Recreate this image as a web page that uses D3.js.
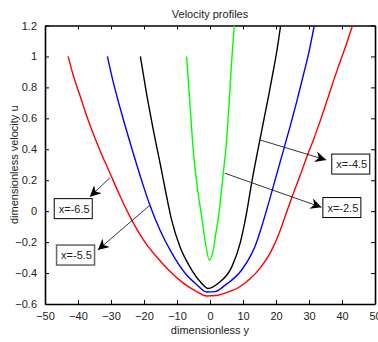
<!DOCTYPE html>
<html>
<head>
<meta charset="utf-8">
<script src="https://cdn.jsdelivr.net/npm/d3@7"></script>
<style>
  body { margin: 0; background: #fff; }
  svg { display: block; font-family: "Liberation Sans", Arial, sans-serif; }
</style>
</head>
<body>
<div id="chart"></div>
<script>
// velocity profiles: [dimensionless y, u]
const profileX65 = [
  [-43.0, 1.0], [-41.6, 0.89], [-39.6, 0.76], [-36.6, 0.57], [-33.5, 0.40],
  [-30.3, 0.245], [-27.3, 0.10], [-23.7, -0.058], [-20.2, -0.185], [-16.2, -0.295],
  [-12.1, -0.39], [-8.1, -0.465], [-4.0, -0.52], [-1.0, -0.548], [2.0, -0.545],
  [5.0, -0.527], [8.5, -0.495], [12.0, -0.44], [15.5, -0.36], [18.5, -0.26],
  [21.0, -0.14], [23.0, -0.02], [25.0, 0.10], [27.3, 0.23], [29.5, 0.36],
  [31.5, 0.47], [33.5, 0.59], [36.0, 0.75], [38.5, 0.91], [41.0, 1.06], [43.2, 1.2]
];
const profileX55 = [
  [-31.1, 1.0], [-29.5, 0.85], [-26.5, 0.61], [-23.9, 0.42], [-22.2, 0.30],
  [-20.3, 0.17], [-18.4, 0.05], [-15.2, -0.12], [-11.6, -0.27], [-7.6, -0.40],
  [-4.0, -0.475], [-1.0, -0.522], [1.5, -0.52], [4.5, -0.48], [9.6, -0.38],
  [11.6, -0.315], [13.6, -0.23], [15.8, -0.09], [18.0, 0.07], [20.1, 0.23],
  [22.2, 0.39], [24.3, 0.55], [26.3, 0.71], [28.3, 0.88], [30.0, 1.03], [31.6, 1.2]
];
const profileX45 = [
  [-21.1, 1.0], [-19.4, 0.78], [-17.4, 0.55], [-14.8, 0.275], [-13.1, 0.09],
  [-11.6, -0.06], [-9.1, -0.23], [-6.1, -0.36], [-3.0, -0.455], [-0.5, -0.50],
  [2.5, -0.466], [6.6, -0.36], [9.1, -0.21], [11.1, -0.01], [12.6, 0.18],
  [14.0, 0.34], [15.3, 0.48], [16.4, 0.60], [17.8, 0.75], [19.2, 0.91],
  [20.3, 1.04], [21.4, 1.2]
];
const profileX25 = [
  [-7.1, 1.0], [-6.1, 0.70], [-5.1, 0.40], [-4.0, 0.18], [-2.5, -0.04],
  [-1.5, -0.19], [-0.2, -0.316], [1.0, -0.25], [1.8, -0.14], [2.7, -0.02],
  [3.5, 0.14], [4.3, 0.30], [4.8, 0.40], [5.8, 0.70], [6.6, 0.98], [7.4, 1.2]
];

const seriesNames = ["x=-6.5", "x=-5.5", "x=-4.5", "x=-2.5"];
const seriesData = [profileX65, profileX55, profileX45, profileX25];
const seriesColors = ["#ff0000", "#0000ff", "#000000", "#00ff00"];

const xTicks = [-50, -40, -30, -20, -10, 0, 10, 20, 30, 40, 50];
const yTicks = [-0.6, -0.4, -0.2, 0, 0.2, 0.4, 0.6, 0.8, 1, 1.2];

// text arrows: label, arrow start [y,u], arrow tip [y,u], box corner [y,u]
const noteLabels = ["x=-6.5", "x=-5.5", "x=-4.5", "x=-2.5"];
const noteFrom = [[-30.3, 0.216], [-18.4, 0.035], [15.2, 0.46], [4.5, 0.245]];
const noteTip = [[-36.4, 0.093], [-34.0, -0.251], [35.2, 0.331], [33.8, 0.025]];
const noteBox = [[-47.2, 0.081], [-46.5, -0.219], [36.9, 0.369], [34.2, 0.088]];

const width = 378, height = 342;
const margin = { top: 25.5, right: 3, bottom: 38, left: 45 };

const svg = d3.select("#chart").append("svg")
  .attr("width", width)
  .attr("height", height);

const x = d3.scaleLinear().domain([-50, 50]).range([margin.left, width - margin.right]);
const y = d3.scaleLinear().domain([-0.6, 1.2]).range([height - margin.bottom, margin.top]);

svg.append("defs").append("clipPath").attr("id", "plot-clip")
  .append("rect")
  .attr("x", margin.left).attr("y", margin.top)
  .attr("width", x(50) - x(-50)).attr("height", y(-0.6) - y(1.2));

svg.select("defs").append("marker")
  .attr("id", "arrowhead")
  .attr("viewBox", "0 0 10 10")
  .attr("refX", 10).attr("refY", 5)
  .attr("markerWidth", 11).attr("markerHeight", 11)
  .attr("markerUnits", "userSpaceOnUse")
  .attr("orient", "auto")
  .append("path")
  .attr("d", "M0,0 L10,5 L0,10 L3,5 Z")
  .attr("fill", "#000");

// axes with inward ticks on all four sides
const tickFmt = d => d3.format("~g")(d);
svg.append("g")
  .attr("transform", `translate(0,${y(-0.6)})`)
  .call(d3.axisBottom(x).tickValues(xTicks).tickSizeInner(-4).tickSizeOuter(0).tickPadding(8).tickFormat(tickFmt));
svg.append("g")
  .attr("transform", `translate(0,${y(1.2)})`)
  .call(d3.axisTop(x).tickValues(xTicks).tickSizeInner(-4).tickSizeOuter(0).tickFormat(""));
svg.append("g")
  .attr("transform", `translate(${x(-50)},0)`)
  .call(d3.axisLeft(y).tickValues(yTicks).tickSizeInner(-4).tickSizeOuter(0).tickPadding(8).tickFormat(tickFmt));
svg.append("g")
  .attr("transform", `translate(${x(50)},0)`)
  .call(d3.axisRight(y).tickValues(yTicks).tickSizeInner(-4).tickSizeOuter(0).tickFormat(""));

svg.selectAll(".domain").attr("stroke", "#000").attr("stroke-width", 1.6);
svg.selectAll(".tick line").attr("stroke", "#000");
svg.selectAll(".tick text").attr("font-size", 11).attr("fill", "#222")
  .attr("font-family", "'Liberation Sans', Arial, sans-serif");

// curves
const line = d3.line()
  .x(d => x(d[0]))
  .y(d => y(d[1]))
  .curve(d3.curveMonotoneX);

svg.append("g").attr("clip-path", "url(#plot-clip)")
  .selectAll("path")
  .data(seriesData)
  .join("path")
  .attr("d", line)
  .attr("fill", "none")
  .attr("stroke", (d, i) => seriesColors[i])
  .attr("stroke-width", 1.4);

// arrows and text boxes
const notes = svg.append("g");
noteLabels.forEach((label, i) => {
  notes.append("line")
    .attr("x1", x(noteFrom[i][0])).attr("y1", y(noteFrom[i][1]))
    .attr("x2", x(noteTip[i][0])).attr("y2", y(noteTip[i][1]))
    .attr("stroke", "#000")
    .attr("stroke-width", 0.8)
    .attr("marker-end", "url(#arrowhead)");

  const bx = x(noteBox[i][0]), by = y(noteBox[i][1]);
  const bw = 38, bh = 20;
  notes.append("rect")
    .attr("x", bx).attr("y", by)
    .attr("width", bw).attr("height", bh)
    .attr("fill", "#fff")
    .attr("stroke", i === 1 ? "#666" : "#000")
    .attr("stroke-width", i === 1 ? 1.5 : 1);
  notes.append("text")
    .attr("x", bx + bw / 2 + 1).attr("y", by + bh / 2 + 4)
    .attr("text-anchor", "middle")
    .attr("font-size", 11)
    .attr("fill", "#222")
    .text(label);
});

// titles
svg.append("text")
  .attr("x", (x(-50) + x(50)) / 2).attr("y", 18)
  .attr("text-anchor", "middle").attr("font-size", 11).attr("fill", "#222")
  .text("Velocity profiles");
svg.append("text")
  .attr("x", (x(-50) + x(50)) / 2).attr("y", 334)
  .attr("text-anchor", "middle").attr("font-size", 11).attr("fill", "#222")
  .text("dimensionless y");
svg.append("text")
  .attr("transform", `translate(18,${(y(-0.6) + y(1.2)) / 2}) rotate(-90)`)
  .attr("text-anchor", "middle").attr("font-size", 11).attr("fill", "#222")
  .text("dimensionless velocity u");
</script>
</body>
</html>
